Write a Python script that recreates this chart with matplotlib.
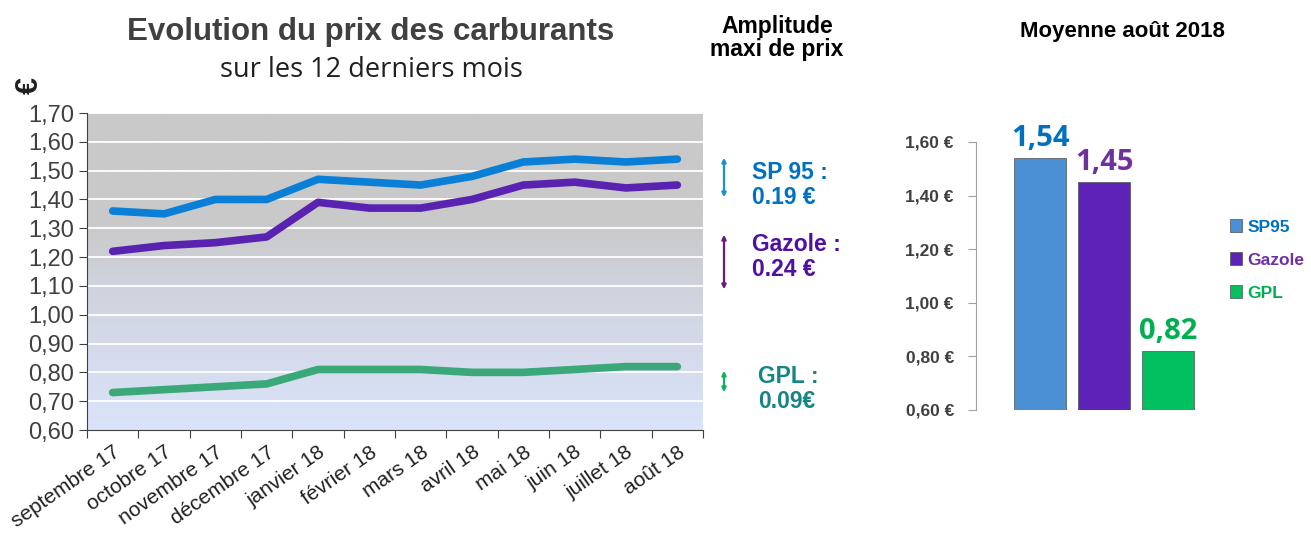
import matplotlib.pyplot as plt
import numpy as np
from matplotlib.colors import LinearSegmentedColormap
from matplotlib.patches import FancyArrowPatch

months = ["septembre 17", "octobre 17", "novembre 17", "décembre 17", "janvier 18",
          "février 18", "mars 18", "avril 18", "mai 18", "juin 18", "juillet 18", "août 18"]
sp95 = [1.36, 1.35, 1.40, 1.40, 1.47, 1.46, 1.45, 1.48, 1.53, 1.54, 1.53, 1.54]
gazole = [1.22, 1.24, 1.25, 1.27, 1.39, 1.37, 1.37, 1.40, 1.45, 1.46, 1.44, 1.45]
gpl = [0.73, 0.74, 0.75, 0.76, 0.81, 0.81, 0.81, 0.80, 0.80, 0.81, 0.82, 0.82]

fuels = ["SP95", "Gazole", "GPL"]
avg_aug = [1.54, 1.45, 0.82]
avg_labels = ["1,54", "1,45", "0,82"]

c_sp = "#0a7fd8"
c_gaz = "#5a22b0"
c_gpl = "#3aa878"

plt.rcParams['font.family'] = ['Liberation Sans', 'DejaVu Sans']

fig = plt.figure(figsize=(13.11, 5.36), dpi=100)
W, H = 1311, 536

def box(l, t, r, b):
    return [l / W, 1 - b / H, (r - l) / W, (b - t) / H]

# ---- left line chart
ax = fig.add_axes(box(87, 113, 703, 430))
x = np.arange(len(months))
ax.set_xlim(-0.5, len(months) - 0.5)
ax.set_ylim(0.6, 1.7)

cmap = LinearSegmentedColormap.from_list("bg", ["#dae3fa", "#d3d8e6", "#c9c9c9", "#c9c9c9"])
yy = np.linspace(0, 1, 256).reshape(-1, 1)
ax.imshow(yy, cmap=cmap, origin="lower", aspect="auto",
          extent=[-0.5, len(months) - 0.5, 0.6, 1.7], zorder=0)

yt = np.round(np.arange(0.6, 1.71, 0.1), 2)
for v in yt[1:]:
    ax.axhline(v, color="white", lw=1.3, zorder=1)

ax.plot(x, sp95, color=c_sp, lw=5.5, solid_capstyle="round", zorder=3)
ax.plot(x, gazole, color=c_gaz, lw=5.5, solid_capstyle="round", zorder=3)
ax.plot(x, gpl, color=c_gpl, lw=5.5, solid_capstyle="round", zorder=3)

ax.set_yticks(yt)
ax.set_yticklabels([f"{v:.2f}".replace(".", ",") for v in yt], fontsize=17, color="#404040")
ax.set_xticks(np.arange(-0.5, len(months), 1), minor=False)
ax.set_xticklabels([])
ax.set_xticks(x, minor=True)
ax.set_xticklabels(months, minor=True, rotation=35, ha="right", rotation_mode="anchor",
                   fontsize=15, color="#202020")
ax.tick_params(axis="x", which="minor", length=0, pad=9)
ax.tick_params(axis="x", which="major", length=6, color="#404040", direction="out")
ax.tick_params(axis="y", length=6, color="#404040", pad=3)
for s in ["top", "right"]:
    ax.spines[s].set_visible(False)
ax.spines["left"].set_color("#404040")
ax.spines["bottom"].set_color("#404040")

fig.text(371 / W, 1 - 32 / H, "Evolution du prix des carburants", ha="center", va="center",
         fontsize=22.5, fontweight="bold", color="#404040")
fig.text(371 / W, 1 - 70 / H, "sur les 12 derniers mois", ha="center", va="center",
         fontsize=19.5, color="#202020", family=["Open Sans", "DejaVu Sans"])
fig.text(30 / W, 1 - 85 / H, "€", ha="center", va="center", rotation=90,
         fontsize=22, fontweight="bold", color="#202020")

# ---- amplitude block
fig.text(777 / W, 1 - 38 / H, "Amplitude\nmaxi de prix", ha="center", va="center",
         fontsize=16.5, fontweight="bold", color="black", linespacing=0.95)

amp = [("SP 95 :\n0.19 €", "#0070c0", 155, 200, 752, 185),
       ("Gazole :\n0.24 €", "#5010a0", 232, 292, 752, 257),
       ("GPL :\n0.09€", "#178585", 368, 395, 758, 389)]
arrow_cols = ["#1a90d0", "#6a1a80", "#10b060"]
for (txt, col, y0, y1, tx, ty), ac in zip(amp, arrow_cols):
    fig.patches.append(FancyArrowPatch(
        (724 / W, 1 - y0 / H), (724 / W, 1 - y1 / H), transform=fig.transFigure,
        arrowstyle="<|-|>", mutation_scale=6, color=ac, lw=1.6))
    fig.text(tx / W, 1 - ty / H, txt, ha="left", va="center", fontsize=16.5,
             fontweight="bold", color=col, linespacing=1.15)

# ---- right bar chart
fig.text(1122 / W, 1 - 32 / H, "Moyenne août 2018", ha="center", va="center",
         fontsize=16, fontweight="bold", color="black")

bx = fig.add_axes(box(976, 142, 1200, 410))
bar_cols = ["#4a8fd4", "#5f22b8", "#00c060"]
lab_cols = ["#0070c0", "#7030a0", "#00b050"]
pos = np.arange(len(fuels))
bars = bx.bar(pos, [v - 0.6 for v in avg_aug], bottom=0.6, width=0.82, color=bar_cols,
              edgecolor="#505050", linewidth=0.5, label=fuels)
bx.set_xlim(-1.0, 2.5)
bx.set_ylim(0.6, 1.6)
for p, v, t, c in zip(pos, avg_aug, avg_labels, lab_cols):
    bx.text(p, v + 0.02, t, ha="center", va="bottom", fontsize=21, fontweight="bold",
            color=c, family=["Open Sans", "DejaVu Sans"], clip_on=False)
byt = np.round(np.arange(0.6, 1.61, 0.2), 2)
bx.set_yticks(byt)
bx.set_yticklabels([f"{v:.2f}".replace(".", ",") + " €" for v in byt], fontsize=12.5,
                   fontweight="bold", color="#404040")
bx.tick_params(axis="y", length=6, color="#a0a0a0", pad=10)
bx.set_xticks([])
for s in ["top", "right", "bottom"]:
    bx.spines[s].set_visible(False)
bx.spines["left"].set_color("#a0a0a0")
bx.patch.set_alpha(0)

leg = bx.legend(handles=list(bars), labels=fuels, loc="center left",
                bbox_to_anchor=(1230 / W, 1 - 260 / H), bbox_transform=fig.transFigure,
                frameon=False, fontsize=12.5, handlelength=0.7, handleheight=0.8,
                handletextpad=0.3, labelspacing=1.0, borderpad=0, borderaxespad=0)
for t, c in zip(leg.get_texts(), lab_cols):
    t.set_color(c)
    t.set_fontweight("bold")

fig.savefig("out.png", dpi=100)
